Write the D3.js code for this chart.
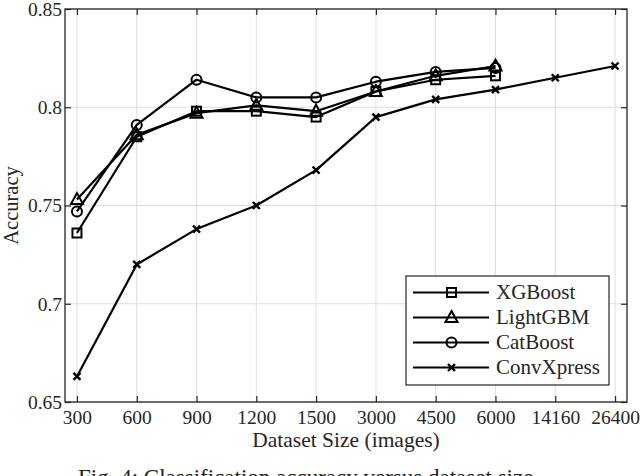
<!DOCTYPE html>
<html><head><meta charset="utf-8">
<script src="https://cdn.jsdelivr.net/npm/d3@7"></script>
<style>body{margin:0;background:#fff}svg{display:block}</style>
</head><body>
<script>
const categories = ["300","600","900","1200","1500","3000","4500","6000","14160","26400"];
const xgboost  = [0.736,0.785,0.798,0.798,0.795,0.808,0.814,0.816];
const lightgbm = [0.753,0.786,0.797,0.801,0.798,0.808,0.816,0.821];
const catboost = [0.747,0.791,0.814,0.805,0.805,0.813,0.818,0.820];
const convxpress = [0.663,0.720,0.738,0.750,0.768,0.795,0.804,0.809,0.815,0.821];
const yTicks = [0.65,0.7,0.75,0.8,0.85];
const seriesNames = ["XGBoost","LightGBM","CatBoost","ConvXpress"];
const seriesMarkers = ["square","triangle","circle","cross"];

(function(){
const W=640,H=476;
const L=65,R=627,T=9,B=402;
const font="'Liberation Serif', 'Times New Roman', serif";
const svg=d3.select("body").append("svg").attr("width",W).attr("height",H);
const x=d3.scalePoint().domain(categories).range([L,R]).padding(0.2);
const y=d3.scaleLinear().domain([0.65,0.85]).range([B,T]);

// grid
const g=svg.append("g");
g.selectAll(".gx").data(categories).enter().append("line")
 .attr("x1",d=>x(d)).attr("x2",d=>x(d)).attr("y1",T).attr("y2",B)
 .attr("stroke","#dedede").attr("stroke-width",1);
g.selectAll(".gy").data(yTicks).enter().append("line")
 .attr("x1",L).attr("x2",R).attr("y1",d=>y(d)).attr("y2",d=>y(d))
 .attr("stroke","#dedede").attr("stroke-width",1);

// axes with inward ticks
const axColor="#262626";
const axBottom=svg.append("g").attr("transform",`translate(0,${B})`)
 .call(d3.axisBottom(x).tickSizeInner(-6).tickSizeOuter(0).tickPadding(8));
const axTop=svg.append("g").attr("transform",`translate(0,${T})`)
 .call(d3.axisTop(x).tickSizeInner(-6).tickSizeOuter(0).tickFormat(""));
const axLeft=svg.append("g").attr("transform",`translate(${L},0)`)
 .call(d3.axisLeft(y).tickValues(yTicks).tickFormat(d=>String(+d.toFixed(2))).tickSizeInner(-6).tickSizeOuter(0).tickPadding(3));
const axRight=svg.append("g").attr("transform",`translate(${R},0)`)
 .call(d3.axisRight(y).tickValues(yTicks).tickFormat("").tickSizeInner(-6).tickSizeOuter(0));
[axBottom,axTop,axLeft,axRight].forEach(a=>{
  a.select(".domain").remove();
  a.selectAll("line").attr("stroke",axColor).attr("stroke-width",1.2);
  a.selectAll("text").attr("font-family",font).attr("font-size",19.5).attr("fill","#262626");
});
svg.append("rect").attr("x",L).attr("y",T).attr("width",R-L).attr("height",B-T)
 .attr("fill","none").attr("stroke",axColor).attr("stroke-width",1.3);

// labels
svg.append("text").attr("x",(L+R)/2).attr("y",447).attr("text-anchor","middle")
 .attr("font-family",font).attr("font-size",21.5).attr("fill","#262626").text("Dataset Size (images)");
svg.append("text").attr("transform",`translate(18,${(T+B)/2}) rotate(-90)`).attr("text-anchor","middle")
 .attr("font-family",font).attr("font-size",20.5).attr("fill","#262626").text("Accuracy");
svg.append("text").attr("x",78).attr("y",485).attr("text-anchor","start")
 .attr("font-family",font).attr("font-size",23).attr("fill","#222").text("Fig. 4: Classification accuracy versus dataset size.");

function drawMarker(sel,type,cx,cy){
  const s=sel.append("g").attr("transform",`translate(${cx},${cy})`);
  let m;
  if(type==="square") m=s.append("rect").attr("x",-4.5).attr("y",-4.5).attr("width",9).attr("height",9);
  else if(type==="triangle") m=s.append("path").attr("d","M0,-6.5L6,4.5L-6,4.5Z");
  else if(type==="circle") m=s.append("circle").attr("r",5);
  else m=s.append("path").attr("d","M-3.5,-3.5L3.5,3.5M-3.5,3.5L3.5,-3.5");
  m.attr("fill","none").attr("stroke","#000").attr("stroke-width",type==="cross"?2.4:2);
}

const allSeries=[xgboost,lightgbm,catboost,convxpress];
const line=d3.line().x((d,i)=>x(categories[i])).y(d=>y(d));
allSeries.forEach((vals)=>{
  svg.append("path").datum(vals).attr("d",line).attr("fill","none")
   .attr("stroke","#000").attr("stroke-width",2.2).attr("stroke-linejoin","round");
});
allSeries.forEach((vals,k)=>{
  vals.forEach((v,i)=>drawMarker(svg,seriesMarkers[k],x(categories[i]),y(v)));
});

// legend
const lg=svg.append("g");
lg.append("rect").attr("x",406).attr("y",276).attr("width",203).attr("height",109)
 .attr("fill","#fff").attr("stroke",axColor).attr("stroke-width",1.2);
seriesNames.forEach((n,i)=>{
  const yy=292.5+i*25;
  lg.append("line").attr("x1",413).attr("x2",489).attr("y1",yy).attr("y2",yy)
   .attr("stroke","#000").attr("stroke-width",2.2);
  drawMarker(lg,seriesMarkers[i],451.5,yy);
  lg.append("text").attr("x",496).attr("y",yy+6.5).attr("font-family",font)
   .attr("font-size",21).attr("fill","#262626").text(n);
});
})();
</script>
</body></html>
